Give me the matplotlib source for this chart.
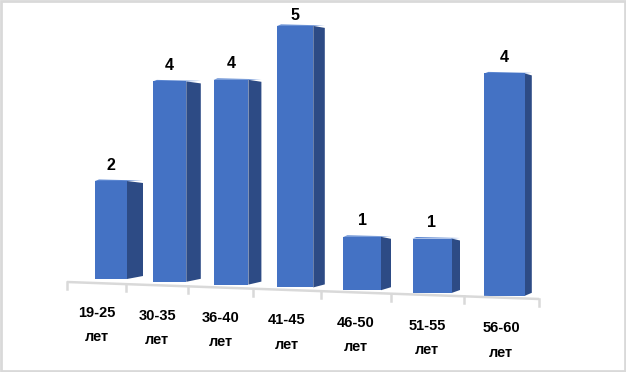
import numpy as np
import matplotlib.pyplot as plt
from matplotlib.patches import Polygon

plt.rcParams['font.family'] = ['Liberation Sans', 'DejaVu Sans']

# data
age_groups = ['19-25', '30-35', '36-40', '41-45', '46-50', '51-55', '56-60']
age_unit = 'лет'
counts = [2, 4, 4, 5, 1, 1, 4]

FRONT = '#4472c4'
SIDE = '#2d4b85'
AXIS = '#d9d9d9'

W, H = 626, 372


# rough perspective of the 3D chart: everything grows a bit to the right
def front_left(i):
    return 95 + 56.5 * i + 1.4 * i ** 2


def front_width(i):
    return 32 + 1.4 * i


def base_y(i):
    return 279 + 2.8 * i


def unit_px(i):
    return 49 + 1.1 * i


def side_width(i):
    return 16 - 1.5 * i


def boundary_x(k):
    return 67 + 58 * k + 1.35 * k ** 2


def axis_y(x):
    return 282 + (x - 67) * 17 / 472


fig = plt.figure(figsize=(W / 100, H / 100), dpi=100)
ax = fig.add_axes([0, 0, 1, 1])
ax.set_xlim(0, W)
ax.set_ylim(H, 0)
ax.axis('off')

# outer frame
ax.add_patch(plt.Rectangle((1, 1), W - 2.5, H - 2.5, fill=False,
                           edgecolor=AXIS, linewidth=2))

# floor axis with ticks
xs = [boundary_x(k) for k in range(len(counts) + 1)]
ax.plot([xs[0], xs[-1]], [axis_y(xs[0]), axis_y(xs[-1])],
        color=AXIS, linewidth=1.8, solid_capstyle='butt')
for x in xs:
    ax.plot([x, x], [axis_y(x), axis_y(x) + 7], color=AXIS, linewidth=1.8)

for i, v in enumerate(counts):
    x0 = front_left(i)
    x1 = x0 + front_width(i)
    yb = base_y(i)
    yt = yb - v * unit_px(i)
    sw = side_width(i)
    # side face
    side = Polygon([(x1, yt), (x1 + sw, yt + 2), (x1 + sw, yb - 3), (x1, yb)],
                   closed=True, facecolor=SIDE, edgecolor='none')
    ax.add_patch(side)
    # top face sliver
    top = Polygon([(x0, yt), (x0 + 4, yt - 1.5), (x1 + sw, yt - 0.5), (x1, yt)],
                  closed=True, facecolor='#5a85d0', edgecolor='none')
    ax.add_patch(top)
    # front face
    ax.add_patch(plt.Rectangle((x0, yt), x1 - x0, yb - yt,
                               facecolor=FRONT, edgecolor='none'))
    # value label, kept inside the chart area
    ax.text((x0 + x1) / 2, max(yt - 16, 16), str(v), ha='center', va='center',
            fontsize=11.5, fontweight='bold', color='black')

    # category label
    cx = (xs[i] + xs[i + 1]) / 2
    ax.text(cx, 313 + 2.5 * i, age_groups[i], ha='center', va='center',
            fontsize=10.5, fontweight='bold', color='black')
    ax.text(cx, 337 + 2.6 * i, age_unit, ha='center', va='center',
            fontsize=10.5, fontweight='bold', color='black')

fig.savefig('out.png', dpi=100)
